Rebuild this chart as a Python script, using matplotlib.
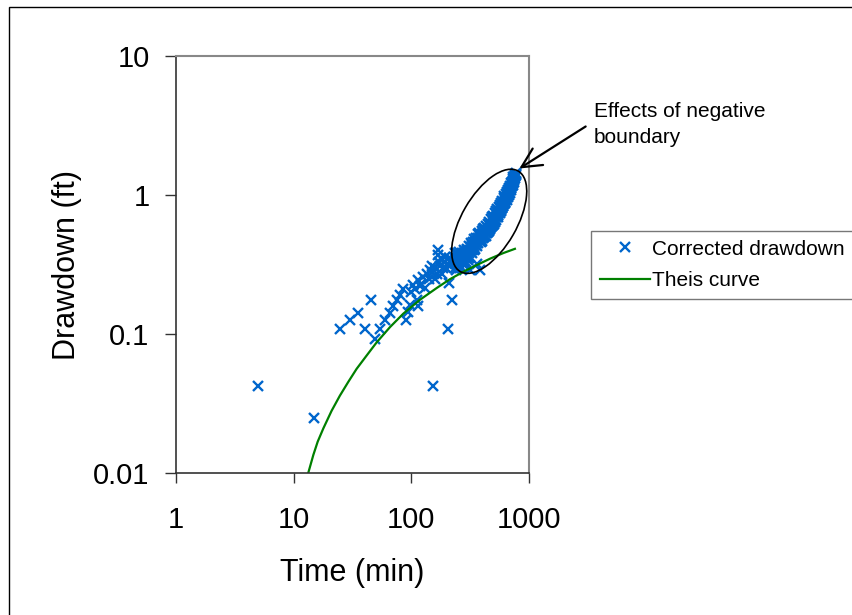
import matplotlib
matplotlib.use('Agg')
import matplotlib.pyplot as plt
from matplotlib.patches import Ellipse, Rectangle

plt.rcParams['font.family'] = ['Liberation Sans', 'DejaVu Sans']

# early / scattered readings (min, ft)
t_early = [5, 15, 25, 30, 35, 40, 45, 49, 54, 60, 66, 70, 75, 80, 85, 90, 94, 97,
           100, 104, 108, 111, 114, 115, 118, 120, 126, 130, 135, 140, 144, 149, 150,
           153, 158, 160, 165, 169, 170, 172, 175, 180, 181, 185, 190, 195, 199, 200,
           205, 207, 210, 215, 220, 220, 225, 234, 258, 296, 315, 359, 383]
s_early = [0.042, 0.025, 0.108, 0.126, 0.142, 0.108, 0.176, 0.092, 0.108, 0.126, 0.142, 0.16, 0.176, 0.19, 0.21, 0.126, 0.145, 0.162,
           0.20, 0.225, 0.21, 0.176, 0.245, 0.16, 0.22, 0.23, 0.257, 0.215, 0.27, 0.25, 0.29, 0.31, 0.28,
           0.042, 0.25, 0.30, 0.27, 0.37, 0.40, 0.33, 0.31, 0.35, 0.272, 0.30, 0.33, 0.36, 0.30, 0.32,
           0.108, 0.233, 0.35, 0.31, 0.34, 0.176, 0.33, 0.38, 0.30, 0.40, 0.29, 0.32, 0.29]

# late readings, boundary effect
t_late = [230, 235, 240, 245, 250, 255, 260, 265, 270, 275, 280, 285, 290, 295, 300, 305,
          310, 315, 320, 325, 330, 340, 345, 350, 360, 365, 370, 380, 385, 390, 400, 405,
          410, 420, 425, 430, 440, 445, 450, 460, 465, 470, 480, 485, 490, 500, 505, 510,
          520, 525, 530, 540, 545, 550, 560, 565, 570, 580, 585, 590, 600, 605, 610, 620,
          625, 630, 640, 645, 650, 660, 665, 670, 680, 685, 690, 700, 705, 710, 720, 725,
          730, 740, 745, 750, 760, 765, 770]
s_late = [0.33, 0.30, 0.35, 0.32, 0.36, 0.33, 0.31, 0.37, 0.34, 0.32, 0.38, 0.35, 0.33, 0.39, 0.36, 0.40,
          0.38, 0.36, 0.42, 0.40, 0.44, 0.42, 0.46, 0.44, 0.47, 0.45, 0.49, 0.47, 0.50, 0.48, 0.52, 0.49,
          0.53, 0.51, 0.55, 0.53, 0.56, 0.54, 0.58, 0.56, 0.60, 0.58, 0.62, 0.60, 0.64, 0.62, 0.67, 0.64,
          0.69, 0.66, 0.71, 0.69, 0.74, 0.72, 0.77, 0.74, 0.80, 0.78, 0.83, 0.80, 0.86, 0.83, 0.89, 0.87,
          0.92, 0.89, 0.95, 0.92, 0.99, 0.97, 1.03, 1.00, 1.07, 1.04, 1.11, 1.09, 1.16, 1.13, 1.21, 1.18,
          1.27, 1.25, 1.33, 1.30, 1.40, 1.36, 1.42]

# more late readings (the band is thick)
t_late2 = [232, 238, 243, 248, 252, 258, 262, 268, 272, 278, 282, 288, 292, 298, 302, 308,
           312, 318, 322, 328, 335, 338, 342, 348, 355, 358, 368, 372, 378, 388, 395, 398,
           408, 415, 418, 428, 435, 438, 448, 455, 458, 468, 475, 478, 488, 495, 498, 508,
           515, 518, 528, 535, 538, 548, 555, 558, 568, 575, 578, 588, 595, 598, 608, 615,
           618, 628, 635, 638, 648, 655, 658, 668, 675, 678, 688, 695, 698, 708, 715, 718,
           728, 735, 738, 748, 755, 758, 768, 775]
s_late2 = [0.36, 0.29, 0.38, 0.30, 0.39, 0.31, 0.35, 0.30, 0.38, 0.33, 0.40, 0.32, 0.36, 0.41, 0.34, 0.43,
           0.35, 0.40, 0.45, 0.38, 0.46, 0.40, 0.48, 0.41, 0.49, 0.43, 0.52, 0.45, 0.53, 0.46, 0.55, 0.47,
           0.57, 0.50, 0.58, 0.51, 0.60, 0.53, 0.62, 0.55, 0.64, 0.57, 0.67, 0.59, 0.70, 0.61, 0.71, 0.64,
           0.74, 0.66, 0.77, 0.69, 0.79, 0.72, 0.82, 0.75, 0.85, 0.77, 0.88, 0.80, 0.91, 0.83, 0.95, 0.86,
           0.98, 0.89, 1.01, 0.93, 1.05, 0.96, 1.09, 1.00, 1.13, 1.04, 1.17, 1.08, 1.21, 1.12, 1.25, 1.16,
           1.30, 1.22, 1.35, 1.28, 1.38, 1.33, 1.44, 1.40]

# Theis type curve
t_theis = [13.3, 14.7, 16.0, 17.9, 21.0, 24.7, 29.1, 34.3, 41.7, 50.7, 65.8, 85.4, 118, 164, 213, 276, 359, 466, 604, 759]
s_theis = [0.0100, 0.0135, 0.0168, 0.0210, 0.0280, 0.0360, 0.0452, 0.0562, 0.0700, 0.0870, 0.112, 0.140,
           0.176, 0.214, 0.248, 0.280, 0.313, 0.348, 0.382, 0.410]

xticks = [1, 10, 100, 1000]
yticks = [0.01, 0.1, 1, 10]
xtick_labels = ['1', '10', '100', '1000']
ytick_labels = ['0.01', '0.1', '1', '10']

W, H = 853, 615
fig = plt.figure(figsize=(W / 100, H / 100), dpi=100)
ax = fig.add_axes([176 / W, 1 - 473 / H, 353 / W, 417 / H])

blue = '#0066CC'
ax.plot(t_early + t_late + t_late2, s_early + s_late + s_late2, linestyle='none', marker='x', ms=7.5,
        mew=1.7, color=blue, label='Corrected drawdown', clip_on=False)
ax.plot(t_theis, s_theis, color='#008000', lw=1.6, label='Theis curve')

ax.set_xscale('log')
ax.set_yscale('log')
ax.set_xlim(1, 1000)
ax.set_ylim(0.01, 10)
ax.set_xticks(xticks)
ax.set_xticklabels(xtick_labels)
ax.set_yticks(yticks)
ax.set_yticklabels(ytick_labels)
ax.minorticks_off()
ax.tick_params(axis='x', direction='out', length=7, width=1, labelsize=21, pad=17, color='#333333')
ax.tick_params(axis='y', direction='out', length=8, width=1, labelsize=21, pad=11, color='#333333')

ax.set_xlabel('Time (min)', fontsize=22, labelpad=17)
ax.set_ylabel('Drawdown (ft)', fontsize=22, labelpad=8)

for side in ['top', 'right']:
    ax.spines[side].set_color('#888888')
    ax.spines[side].set_linewidth(1.5)
for side in ['left', 'bottom']:
    ax.spines[side].set_color('#333333')
    ax.spines[side].set_linewidth(1.2)

# circle the late points
ell = Ellipse((489.2 / 100, (H - 221.3) / 100), 1.16, 0.55, angle=60,
              transform=fig.dpi_scale_trans, fill=False, ec='black', lw=1.2)
fig.add_artist(ell)

fig.text(594 / W, 1 - 116.7 / H, 'Effects of negative', fontsize=15, va='baseline')
fig.text(594 / W, 1 - 143.3 / H, 'boundary', fontsize=15, va='baseline')
ax.annotate('', xy=(517, H - 170), xycoords='figure pixels',
            xytext=(588, H - 125), textcoords='figure pixels',
            arrowprops=dict(arrowstyle='->,head_length=0.7,head_width=0.35',
                            mutation_scale=20, lw=1.6, color='black'))

leg = ax.legend(loc='upper left', bbox_to_anchor=(591 / W, 1 - 231 / H),
                bbox_transform=fig.transFigure, fontsize=15, frameon=True,
                fancybox=False, handlelength=2.4, handletextpad=0.12,
                borderpad=0.41, labelspacing=0.62, borderaxespad=0)
leg.get_frame().set_edgecolor('#555555')
leg.get_frame().set_linewidth(1.0)

# outer border of the chart area
fig.add_artist(Rectangle((9.3 / W, -0.1), 1.2, 1 - 7.3 / H + 0.1, transform=fig.transFigure,
                         fill=False, ec='black', lw=1.0))

fig.savefig('out.png', dpi=100)
